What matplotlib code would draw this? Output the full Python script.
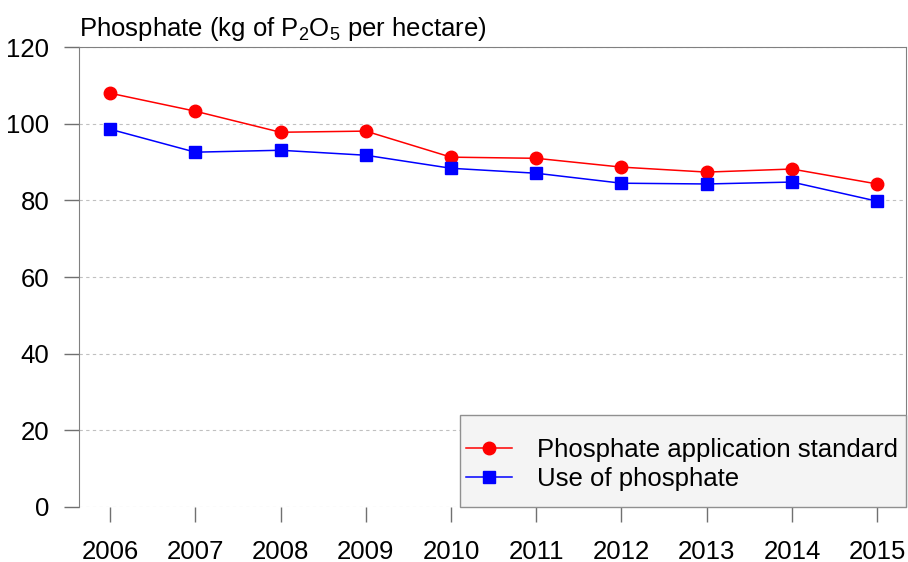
import matplotlib.pyplot as plt
from matplotlib.patches import Rectangle

plt.rcParams['font.family'] = ['Liberation Sans', 'DejaVu Sans']

years = [2006, 2007, 2008, 2009, 2010, 2011, 2012, 2013, 2014, 2015]
standard = [108.0, 103.3, 97.8, 98.1, 91.3, 91.0, 88.7, 87.4, 88.2, 84.3]
use = [98.6, 92.6, 93.1, 91.8, 88.4, 87.1, 84.5, 84.3, 84.8, 79.8]
yticks = [0, 20, 40, 60, 80, 100, 120]

fig = plt.figure(figsize=(9.08, 5.62), dpi=100)
ax = fig.add_axes([0.087, 0.098, 0.911, 0.818])

ax.plot(years, standard, color='#ff0000', lw=1.1, marker='o', ms=9,
        label='Phosphate application standard')
ax.plot(years, use, color='#0000ff', lw=1.1, marker='s', ms=8.5,
        label='Use of phosphate')

ax.set_xlim(2005.636, 2015.34)
ax.set_ylim(0, 120)
ax.set_xticks(years)
ax.set_yticks(yticks)
ax.tick_params(axis='both', labelsize=18.5, length=10.5, width=1, color='#707070')
ax.tick_params(axis='y', pad=11)
ax.tick_params(axis='x', pad=13)
ax.grid(axis='y', color='#c0c0c0', ls=(0, (3, 3)), lw=0.8)

for side in ['left', 'top', 'right']:
    ax.spines[side].set_color('#808080')
ax.spines['bottom'].set_visible(False)

ax.text(0.0, 1.01, 'Phosphate (kg of P$\\mathregular{_2}$O$\\mathregular{_5}$ per hectare)',
        transform=ax.transAxes, fontsize=18.5, ha='left', va='bottom')

# legend box drawn separately so the padding can differ per side
box = Rectangle((0.4607, 0.0), 0.5393, 0.2, transform=ax.transAxes,
                facecolor='#f4f4f4', edgecolor='#909090', lw=1, zorder=4,
                clip_on=False)
ax.add_patch(box)
leg = ax.legend(loc='center left', bbox_to_anchor=(0.468, 0.092), fontsize=18.5,
                frameon=False, borderaxespad=0, borderpad=0, handlelength=1.8,
                labelspacing=0.2, handletextpad=0.95)
leg.set_zorder(5)

fig.savefig('out.png', dpi=100)
